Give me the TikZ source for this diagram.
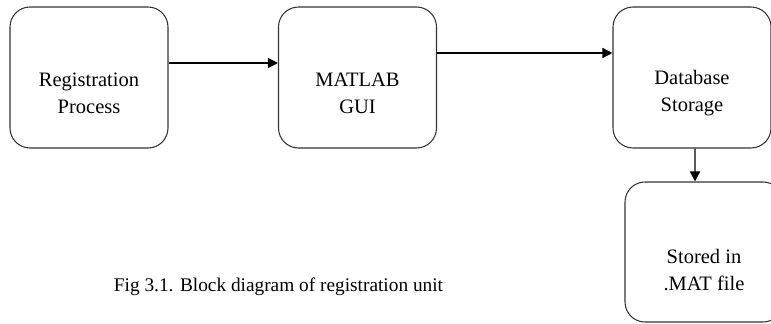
\documentclass[tikz,border=0pt]{standalone}
\usepackage{fontspec}
\setmainfont{Liberation Serif}
\usepackage{tikz}
\usetikzlibrary{positioning, arrows.meta}
\tikzstyle{blockBox}=[draw=black!80, line width=0.9pt, rounded corners=0.6cm, minimum width=4.74cm, minimum height=4.23cm]
\tikzstyle{blockText}=[align=center, font=\fontsize{17.5}{23}\selectfont]
\tikzstyle{dataFlow}=[-{Triangle[length=0.3cm,width=0.3cm]}, line width=1.2pt]

\begin{document}
\begin{tikzpicture}

    \useasboundingbox (0,0) rectangle (23.13,9.69);
    \clip (0,0) rectangle (23.13,9.69);

    \node[blockBox] (reg) at (2.67,7.365) {};
    \node[blockBox] (gui) at (10.725,7.365) {};
    \node[blockBox] (db) at (20.76,7.365) {};
    \node[blockBox, minimum height=4.2cm] (mat) at (21.12,2.13) {};

    \node[blockText] (regT) at ([yshift=-0.465cm]reg.center) {Registration\\Process};
    \node[blockText] (guiT) at ([yshift=-0.465cm]gui.center) {MATLAB\\GUI};
    \node[blockText] (dbT) at ([yshift=-0.465cm]db.center) {Database\\Storage};
    \node[blockText] (matT) at ([yshift=-0.54cm]mat.center) {Stored in\\.MAT file};

    \node[font=\fontsize{16.5}{20}\selectfont] (cap) at (8.355,1.08) {Fig 3.1. Block diagram of registration unit};

    \draw[dataFlow] ([yshift=0.435cm]reg.east) -- ([yshift=0.435cm]gui.west);
    \draw[dataFlow] ([yshift=0.735cm]gui.east) -- ([yshift=0.735cm]db.west);
    \draw[dataFlow] ([xshift=0.09cm]db.south) -- ([xshift=-0.27cm]mat.north);

\end{tikzpicture}
\end{document}
